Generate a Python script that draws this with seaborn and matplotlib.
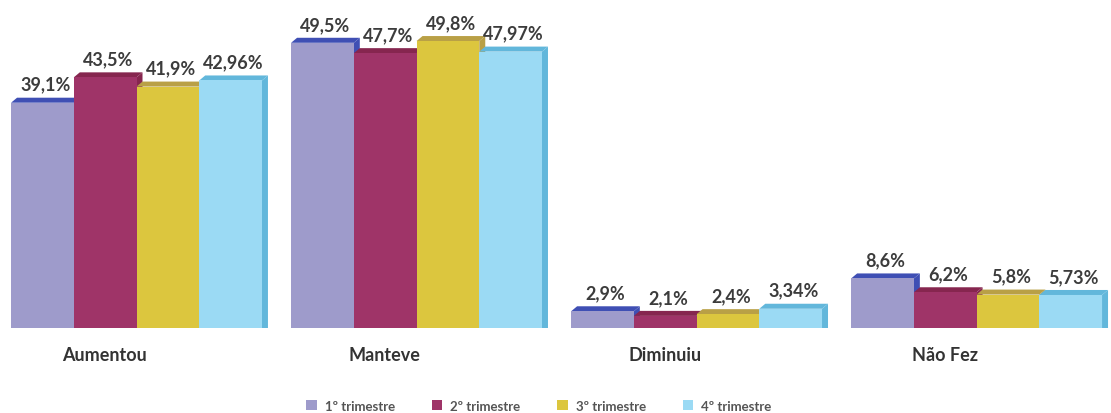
import matplotlib
matplotlib.use("Agg")
import matplotlib.pyplot as plt
from matplotlib.patches import Polygon, Patch
import pandas as pd
import seaborn as sns

categories = ["Aumentou", "Manteve", "Diminuiu", "Não Fez"]
quarters = ["1º trimestre", "2º trimestre", "3º trimestre", "4º trimestre"]
q1 = [39.1, 49.5, 2.9, 8.6]
q2 = [43.5, 47.7, 2.1, 6.2]
q3 = [41.9, 49.8, 2.4, 5.8]
q4 = [42.96, 47.97, 3.34, 5.73]

front_colors = ["#9E9BCB", "#9F3468", "#DCC63E", "#9BDAF4"]
depth_colors = ["#3F4FB4", "#86264F", "#B9A046", "#62B7DB"]

rows = []
for q, vals in zip(quarters, [q1, q2, q3, q4]):
    for c, v in zip(categories, vals):
        rows.append({"categoria": c, "trimestre": q, "valor": v})
df = pd.DataFrame(rows)

sns.set_theme(style="white")
plt.rcParams["font.family"] = ["Lato", "DejaVu Sans"]

fig = plt.figure(figsize=(11.11, 4.14), dpi=100)
ax = fig.add_axes([0, 85 / 414, 1, 329 / 414])

sns.barplot(data=df, x="categoria", y="valor", hue="trimestre",
            order=categories, hue_order=quarters, palette=front_colors,
            width=0.896, gap=0, saturation=1, legend=False,
            linewidth=0, errorbar=None, ax=ax, zorder=3)

ax.set_xlim(-0.4875, 3.48)
ax.set_ylim(0, 57.1)

# 3-D look: slanted top face and right-hand side face behind each front
dx, dy = 0.0214, 0.87
for k, cont in enumerate(ax.containers):
    shade = depth_colors[k]
    for bar in cont:
        x0 = bar.get_x()
        x1 = x0 + bar.get_width()
        h = bar.get_height()
        top = Polygon([(x0, h), (x1, h), (x1 + dx, h + dy), (x0 + dx, h + dy)],
                      closed=True, facecolor=shade, edgecolor="none", zorder=2)
        side = Polygon([(x1, 0), (x1 + dx, 0), (x1 + dx, h + dy), (x1, h)],
                       closed=True, facecolor=shade, edgecolor="none", zorder=2)
        ax.add_patch(top)
        ax.add_patch(side)
        label = f"{h:g}".replace(".", ",") + "%"
        ax.annotate(label, (x0 + (x1 - x0) / 2 + dx / 2, h + dy),
                    xytext=(0, 8), textcoords="offset pixels",
                    ha="center", va="baseline", fontsize=13,
                    fontweight="bold", color="#3C3C3C", zorder=5)

ax.set_xticks([i - 0.114 for i in range(len(categories))])
ax.set_xticklabels(categories, fontsize=13, fontweight="bold", color="#333333")
ax.tick_params(axis="x", length=0, pad=13)
ax.set_yticks([])
ax.set_xlabel("")
ax.set_ylabel("")
for s in ax.spines.values():
    s.set_visible(False)

handles = [Patch(facecolor=c, edgecolor="none") for c in front_colors]
fig.legend(handles, quarters, loc="lower center", bbox_to_anchor=(0.485, -0.026),
           ncol=4, frameon=False, prop={"size": 9.5, "weight": "bold"},
           handlelength=0.8, handleheight=0.8, handletextpad=0.6,
           columnspacing=2.8, labelcolor="#555555")

fig.savefig("out.png", dpi=100, facecolor="white")
